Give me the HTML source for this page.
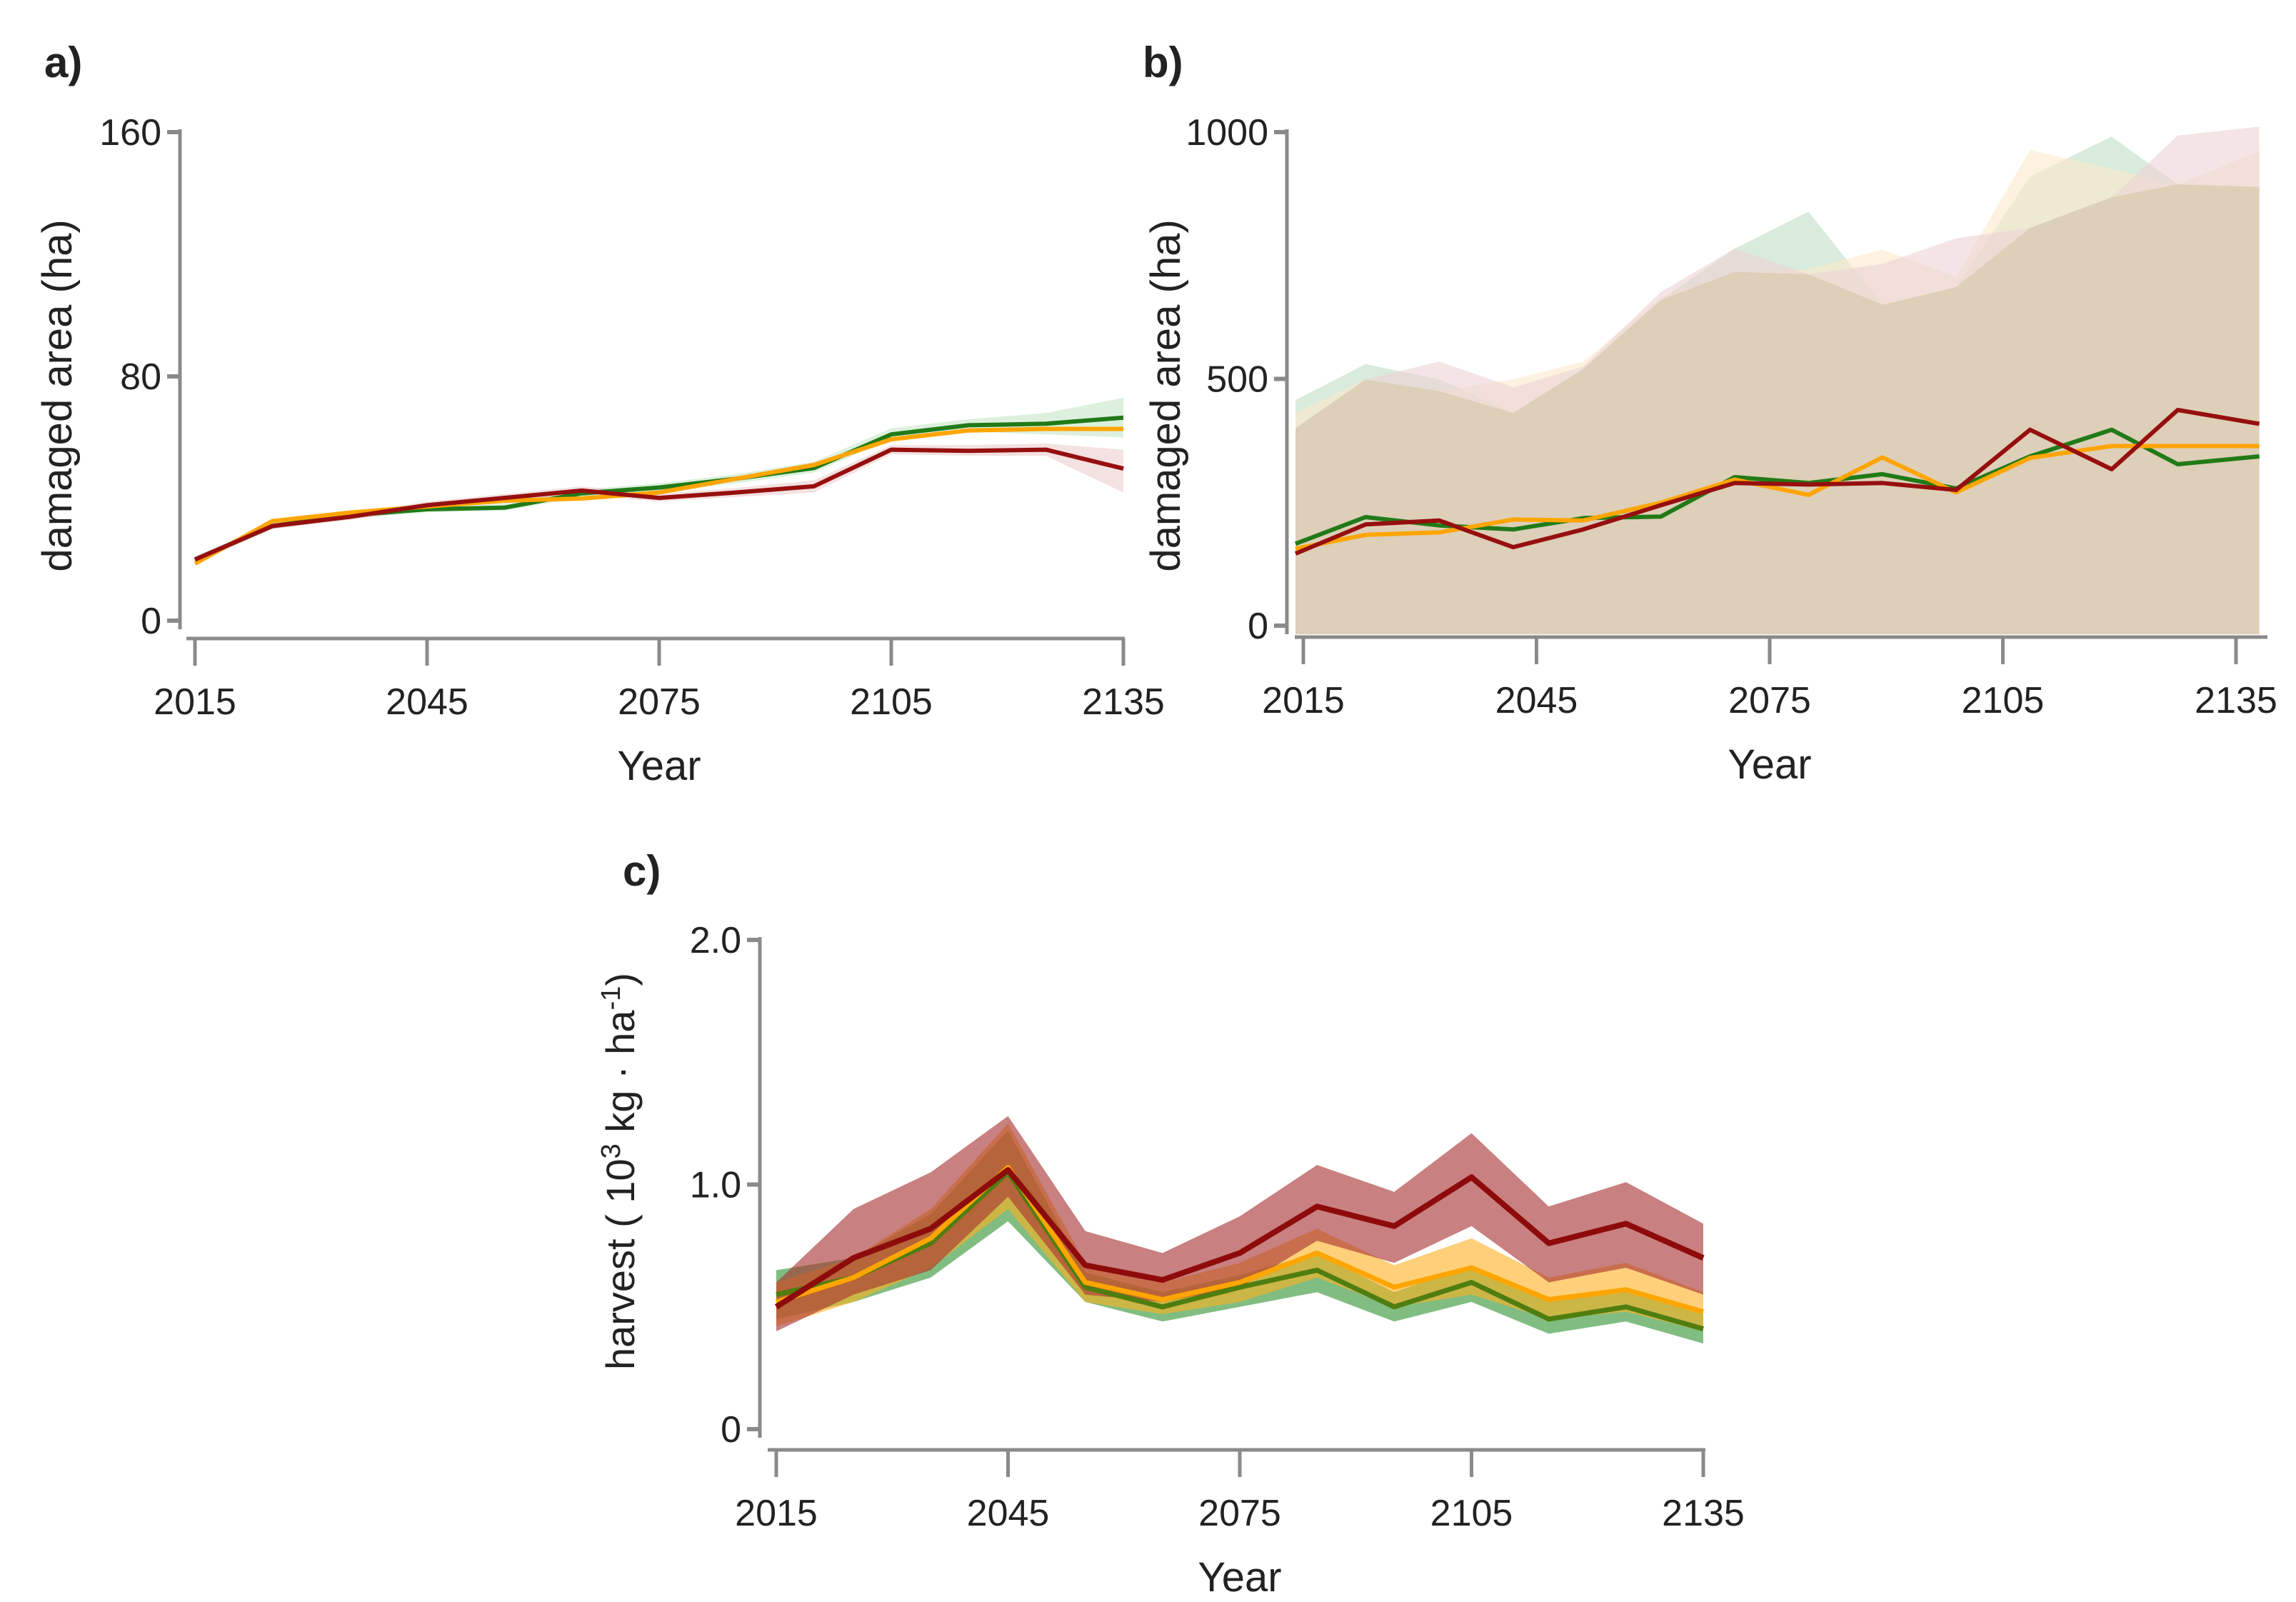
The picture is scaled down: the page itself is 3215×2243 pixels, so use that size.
<!DOCTYPE html>
<html><head><meta charset="utf-8">
<style>
html,body{margin:0;padding:0;background:#fff;}
svg{display:block;}
text{font-family:"Liberation Sans",sans-serif;fill:#222;}
</style></head>
<body>
<svg id="fig" width="3215" height="2243" viewBox="0 0 3215 2243" xmlns="http://www.w3.org/2000/svg">
<rect width="3215" height="2243" fill="#fff"/>
<text x="62" y="108" font-size="60" font-weight="bold">a)</text>
<text x="1600" y="108" font-size="60" font-weight="bold">b)</text>
<text x="872" y="1240" font-size="60" font-weight="bold">c)</text>
<g id="pa"></g>
<g id="pb"></g>
<g id="pc"></g>
</svg>
<script>
// ---------- Panel a data ----------
const aYears = [2015,2025,2035,2045,2055,2065,2075,2085,2095,2105,2115,2125,2135];
const aGreen = [20,31,34.5,36.5,37,41.7,43.6,46.5,50,61,64,64.5,66.5];
const aOrange = [18.7,32.6,35.4,37.4,39.3,40,42,46.5,51,59.4,62.3,62.8,62.8];
const aRed = [20,31,34,37.8,40.2,42.6,40.2,42,44,56,55.6,56,49.8];
const aRedUpper = [21,32,35,39,41.5,44,41.5,43.5,46,57.5,57.5,58,56];
const aRedLower = [19,30,33,36.5,39,41,39,40.5,42,54.5,54,54,42];
const aGreenUpper = [21,32,35.5,37.5,38.5,43,45,48,52,63,66,68,73];
const aGreenLower = [19,30,33.5,35.5,36,40.5,42,45,48.5,59.5,62,61,60];
const aYTicks = [0,80,160];
const aXTicks = [2015,2045,2075,2105,2135];

// ---------- Panel b data ----------
const bYears = [2014,2023,2032.5,2042,2051,2061,2070.5,2080,2089.5,2099,2108.5,2119,2127.5,2138];
const bGreen = [166,220,203,195,218,221,301,289,307,278,343,397,327,343];
const bOrange = [156,184,189,215,213,249,296,265,341,270,340,364,364,364];
const bRed = [146,205,213,159,195,244,289,286,289,275,397,317,437,409];
const bGreenUpper = [457,530,499,431,520,660,764,839,650,686,910,991,894,889];
const bOrangeUpper = [431,499,475,499,535,665,717,722,762,707,964,925,894,961];
const bRedUpper = [400,499,535,483,525,676,764,712,733,785,806,868,993,1011];
const bYTicks = [0,500,1000];
const bXTicks = [2015,2045,2075,2105,2135];

// ---------- Panel c data ----------
const cYears = [2015,2025,2035,2045,2055,2065,2075,2085,2095,2105,2115,2125,2135];
const cRed = [0.50,0.70,0.82,1.06,0.67,0.61,0.72,0.91,0.83,1.03,0.76,0.84,0.70];
const cRedUpper = [0.60,0.90,1.05,1.28,0.81,0.72,0.87,1.08,0.97,1.21,0.91,1.01,0.84];
const cRedLower = [0.40,0.55,0.65,0.95,0.55,0.52,0.58,0.77,0.68,0.83,0.60,0.66,0.55];
const cOrange = [0.52,0.62,0.78,1.07,0.60,0.53,0.60,0.72,0.58,0.66,0.53,0.57,0.48];
const cOrangeUpper = [0.60,0.70,0.90,1.25,0.68,0.60,0.68,0.82,0.67,0.78,0.62,0.68,0.56];
const cOrangeLower = [0.42,0.52,0.66,0.90,0.52,0.47,0.52,0.62,0.50,0.55,0.45,0.48,0.40];
const cGreen = [0.55,0.62,0.76,1.05,0.58,0.50,0.58,0.65,0.50,0.60,0.45,0.50,0.41];
const cGreenUpper = [0.65,0.70,0.88,1.22,0.64,0.56,0.63,0.72,0.56,0.67,0.52,0.57,0.47];
const cGreenLower = [0.45,0.52,0.62,0.85,0.52,0.44,0.50,0.56,0.44,0.52,0.39,0.44,0.35];
const cYTicks = [0,1,2];
const cYTickLabels = ["0","1.0","2.0"];
const cXTicks = [2015,2045,2075,2105,2135];

const NS = "http://www.w3.org/2000/svg";
function mk(parent, tag, attrs){
  const e = document.createElementNS(NS, tag);
  for (const k in attrs) e.setAttribute(k, attrs[k]);
  parent.appendChild(e);
  return e;
}
function lin(d0,d1,r0,r1){ return v => r0 + (v-d0)/(d1-d0)*(r1-r0); }
function pts(xs, ys, X, Y){ return xs.map((x,i)=>X(x).toFixed(1)+","+Y(ys[i]).toFixed(1)).join(" "); }

function axes(g, X, Y, o){
  const ya = mk(g,"line",{x1:o.ax,y1:Y(o.yMax)-4,x2:o.ax,y2:Y(0)+12,stroke:"#8a8a8a","stroke-width":5});
  
  
  o.yTicks.forEach((t,i)=>{
    const tk = mk(g,"line",{x1:o.ax-18,y1:Y(t),x2:o.ax,y2:Y(t),stroke:"#8a8a8a","stroke-width":6});
    
    
    const tl = mk(g,"text",{x:o.ax-26,y:Y(t)+18,"font-size":52,"text-anchor":"end"});
    tl.textContent = o.yLabels ? o.yLabels[i] : String(t);
    
    
  });
  const xa = mk(g,"line",{x1:X(o.xTicks[0])-12,y1:o.axY,x2:o.xEnd,y2:o.axY,stroke:"#8a8a8a","stroke-width":5});
  
  
  o.xTicks.forEach(t=>{
    const tk = mk(g,"line",{x1:X(t),y1:o.axY,x2:X(t),y2:o.axY+38,stroke:"#8a8a8a","stroke-width":5});
    
    
    const tl = mk(g,"text",{x:X(t),y:o.axY+106,"font-size":52,"text-anchor":"middle"});
    tl.textContent = String(t);
    
    
  });
  const xt = mk(g,"text",{x:(X(o.xTicks[0])+X(o.xTicks[o.xTicks.length-1]))/2,y:o.axY+198,"font-size":58,"text-anchor":"middle"});
  xt.textContent = "Year";
  
  
}
function line(g, xs, ys, X, Y, color, name, w){
  const p = mk(g,"polyline",{points:pts(xs,ys,X,Y),fill:"none",stroke:color,"stroke-width":w||6,"stroke-linejoin":"round"});
  
  
}
function band(g, xs, lo, hi, X, Y, color, op, name){
  const up = xs.map((x,i)=>X(x).toFixed(1)+","+Y(hi[i]).toFixed(1));
  const dn = xs.map((x,i)=>X(x).toFixed(1)+","+Y(lo[i]).toFixed(1)).reverse();
  const p = mk(g,"polygon",{points:up.concat(dn).join(" "),fill:color,"fill-opacity":op});
  
  
}

// ---------- Panel a ----------
(function(){
  const g = document.getElementById("pa");
  const X = lin(2015,2135,273,1573), Y = lin(0,160,869,185);
  axes(g,X,Y,{id:"panel-a",ax:252,yMax:160,yTicks:aYTicks,xTicks:aXTicks,axY:894,xEnd:1575});
  band(g,aYears,aGreenLower,aGreenUpper,X,Y,"#9fd39f",0.35,"panel-a-green-band");
  band(g,aYears,aRedLower,aRedUpper,X,Y,"#e0a8a8",0.35,"panel-a-red-band");
  line(g,aYears,aGreen,X,Y,"#217a17","panel-a-green-line");
  line(g,aYears,aOrange,X,Y,"#ffa500","panel-a-orange-line");
  line(g,aYears,aRed,X,Y,"#960f0f","panel-a-red-line");
  const yt = mk(g,"text",{transform:"translate(100,554) rotate(-90)","font-size":58,"text-anchor":"middle"});
  yt.textContent = "damaged area (ha)";
  
  
})();

// ---------- Panel b ----------
(function(){
  const g = document.getElementById("pb");
  const X = lin(2015,2135,1825,3131), Y = lin(0,1000,876,185);
  const zeros = bYears.map(()=>0);
  const Yb = v => v===0 ? 888 : Y(v);
  band(g,bYears,zeros,bGreenUpper,X,Yb,"#cfe6d3",0.8,"panel-b-green-band");
  band(g,bYears,zeros,bOrangeUpper,X,Yb,"#fbe9cc",0.6,"panel-b-orange-band");
  band(g,bYears,zeros,bRedUpper,X,Yb,"#ecd2d4",0.6,"panel-b-red-band");
  const minUp = bYears.map((_,i)=>Math.min(bGreenUpper[i],bOrangeUpper[i],bRedUpper[i]));
  band(g,bYears,zeros,minUp,X,Yb,"#ddcfb8",1,"panel-b-overlap-band");
  axes(g,X,Y,{id:"panel-b",ax:1802,yMax:1000,yTicks:bYTicks,xTicks:bXTicks,axY:892,xEnd:3175});
  line(g,bYears,bGreen,X,Y,"#217a17","panel-b-green-line");
  line(g,bYears,bOrange,X,Y,"#ffa500","panel-b-orange-line");
  line(g,bYears,bRed,X,Y,"#960f0f","panel-b-red-line");
  const yt = mk(g,"text",{transform:"translate(1652,554) rotate(-90)","font-size":58,"text-anchor":"middle"});
  yt.textContent = "damaged area (ha)";
  
  
})();

// ---------- Panel c ----------
(function(){
  const g = document.getElementById("pc");
  const X = lin(2015,2135,1087,2385), Y = lin(0,2,2001,1316);
  axes(g,X,Y,{id:"panel-c",ax:1064,yMax:2,yTicks:cYTicks,yLabels:cYTickLabels,xTicks:cXTicks,axY:2030,xEnd:2388});
  band(g,cYears,cGreenLower,cGreenUpper,X,Y,"#3d9a3d",0.65,"panel-c-green-band");
  band(g,cYears,cOrangeLower,cOrangeUpper,X,Y,"#ffb020",0.6,"panel-c-orange-band");
  band(g,cYears,cRedLower,cRedUpper,X,Y,"#a83232",0.62,"panel-c-red-band");
  line(g,cYears,cGreen,X,Y,"#4f7d10","panel-c-green-line",7);
  line(g,cYears,cOrange,X,Y,"#ffa500","panel-c-orange-line",7);
  line(g,cYears,cRed,X,Y,"#8e0b0b","panel-c-red-line",8);
  const yt = mk(g,"text",{transform:"translate(888,1640) rotate(-90)","font-size":56,"text-anchor":"middle"});
  
  
  yt.innerHTML = 'harvest ( 10<tspan dy="-20" font-size="38">3</tspan><tspan dy="20"> kg · ha</tspan><tspan dy="-20" font-size="38">-1</tspan><tspan dy="20">)</tspan>';
})();
</script>
</body></html>
